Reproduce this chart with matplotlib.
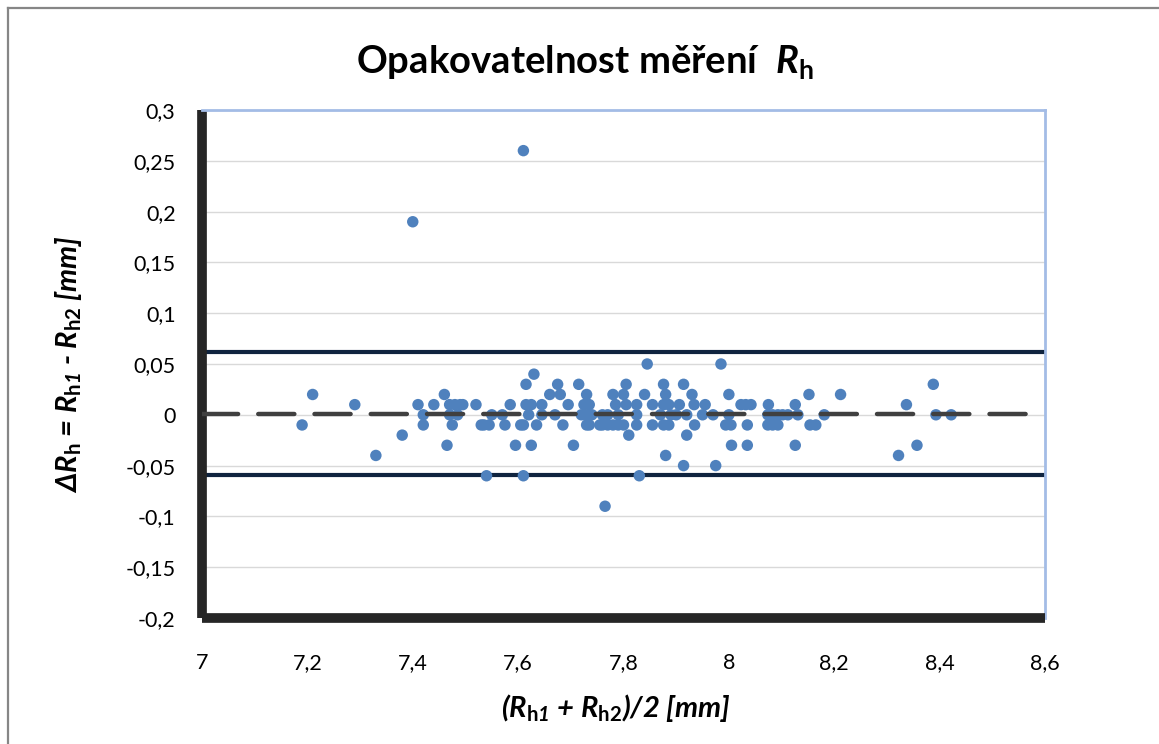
import matplotlib
matplotlib.use("Agg")
import matplotlib.pyplot as plt
from matplotlib.lines import Line2D

# ---------------- data ----------------
x_mean = [7.19, 7.21, 7.29, 7.33, 7.38, 7.40, 7.41, 7.42, 7.42, 7.44,
          7.46, 7.465, 7.47, 7.48, 7.49, 7.495, 7.47, 7.485, 7.475,
          7.52, 7.53, 7.535, 7.545, 7.55, 7.54, 7.57, 7.575, 7.585, 7.595,
          7.605, 7.61, 7.61, 7.61, 7.615, 7.615, 7.625, 7.63, 7.625, 7.62,
          7.635, 7.645, 7.645, 7.66, 7.675, 7.68, 7.67, 7.685, 7.695, 7.705,
          7.715, 7.73, 7.725, 7.735, 7.72, 7.73, 7.74, 7.73, 7.735,
          7.755, 7.76, 7.77, 7.78, 7.79, 7.80, 7.76, 7.77, 7.79, 7.765,
          7.78, 7.785, 7.80, 7.805, 7.805, 7.81, 7.825, 7.825, 7.83, 7.825,
          7.84, 7.845, 7.855, 7.855, 7.87, 7.876, 7.886, 7.876, 7.886,
          7.88, 7.876, 7.88, 7.89,
          7.906, 7.90, 7.914, 7.914, 7.92, 7.93, 7.934, 7.935, 7.92, 7.95,
          7.955, 7.97, 7.975, 7.985, 7.994, 8.004, 8.0, 8.0, 8.005,
          8.023, 8.032, 8.042, 8.035, 8.035, 8.075, 8.074, 8.083, 8.093,
          8.102, 8.112, 8.131, 8.074, 8.083, 8.093, 8.126, 8.126,
          8.152, 8.154, 8.165, 8.181, 8.212,
          8.322, 8.337, 8.357, 8.388, 8.393, 8.422]
delta = [-0.01, 0.02, 0.01, -0.04, -0.02, 0.19, 0.01, 0.0, -0.01, 0.01,
         0.02, -0.03, 0.01, 0.01, 0.01, 0.01, 0.0, 0.0, -0.01,
         0.01, -0.01, -0.01, -0.01, 0.0, -0.06, 0.0, -0.01, 0.01, -0.03,
         -0.01, -0.01, -0.06, 0.26, 0.03, 0.01, 0.01, 0.04, -0.03, 0.0,
         -0.01, 0.01, 0.0, 0.02, 0.03, 0.02, 0.0, -0.01, 0.01, -0.03,
         0.03, 0.02, 0.01, 0.01, 0.0, 0.0, 0.0, -0.01, -0.01,
         -0.01, -0.01, -0.01, -0.01, -0.01, -0.01, 0.0, 0.0, 0.0, -0.09,
         0.02, 0.01, 0.02, 0.03, 0.01, -0.02, 0.01, -0.01, -0.06, 0.0,
         0.02, 0.05, 0.01, -0.01, 0.0, 0.01, 0.01, -0.01, -0.01,
         0.02, 0.03, -0.04, 0.0,
         0.01, 0.0, 0.03, -0.05, -0.02, 0.02, 0.01, -0.01, 0.0, 0.0,
         0.01, 0.0, -0.05, 0.05, -0.01, -0.01, 0.02, 0.0, -0.03,
         0.01, 0.01, 0.01, -0.01, -0.03, 0.01, 0.0, 0.0, 0.0,
         0.0, 0.0, 0.0, -0.01, -0.01, -0.01, 0.01, -0.03,
         0.02, -0.01, -0.01, 0.0, 0.02,
         -0.04, 0.01, -0.03, 0.03, 0.0, 0.0]

mean_diff = 0.0012
upper_loa = 0.0615
lower_loa = -0.0590
mean_line_x = [7.0, 8.565]
loa_line_x = [7.0, 8.6]

x_ticks = [7.0, 7.2, 7.4, 7.6, 7.8, 8.0, 8.2, 8.4, 8.6]
x_tick_labels = ["7", "7,2", "7,4", "7,6", "7,8", "8", "8,2", "8,4", "8,6"]
y_ticks = [-0.2, -0.15, -0.1, -0.05, 0.0, 0.05, 0.1, 0.15, 0.2, 0.25, 0.3]
y_tick_labels = ["-0,2", "-0,15", "-0,1", "-0,05", "0", "0,05", "0,1",
                 "0,15", "0,2", "0,25", "0,3"]

title_text = "Opakovatelnost měření  $\\mathbfit{R}_{\\mathbf{h}}$"
x_label = "($\\mathbfit{R}_{\\mathbf{h}\\mathbfit{1}}$ + $\\mathbfit{R}_{\\mathbf{h2}}$)/2 [mm]"
y_label = ("Δ$\\mathbfit{R}_{\\mathbf{h}}$ = $\\mathbfit{R}_{\\mathbf{h}\\mathbfit{1}}$ - "
           "$\\mathbfit{R}_{\\mathbf{h2}}$ [mm]")

# ---------------- style ----------------
plt.rcParams['font.family'] = ['Lato', 'DejaVu Sans']
plt.rcParams['mathtext.fontset'] = 'custom'
plt.rcParams['mathtext.rm'] = 'Lato'
plt.rcParams['mathtext.it'] = 'Lato:italic'
plt.rcParams['mathtext.bf'] = 'Lato:bold'
plt.rcParams['mathtext.bfit'] = 'Lato:italic:bold'
plt.rcParams['lines.scale_dashes'] = False

W, H = 1159, 744
fig = plt.figure(figsize=(W / 100, H / 100), dpi=100)
fig.patch.set_facecolor('white')

# outer chart-area border (top and left visible)
fig.add_artist(Line2D([8 / W, 1.0], [1 - 8 / H, 1 - 8 / H], color='#868686', lw=1.6,
                      transform=fig.transFigure))
fig.add_artist(Line2D([8 / W, 8 / W], [0.0, 1 - 8 / H], color='#868686', lw=1.6,
                      transform=fig.transFigure))

ax = fig.add_axes([202 / W, 1 - 618 / H, (1045 - 202) / W, (618 - 110) / H])
ax.set_xlim(7.0, 8.6)
ax.set_ylim(-0.2, 0.3)

ax.set_yticks(y_ticks)
ax.set_yticklabels(y_tick_labels)
ax.set_xticks(x_ticks)
ax.set_xticklabels(x_tick_labels)
ax.tick_params(axis='both', length=0, labelsize=15.5, colors='#000000')
ax.tick_params(axis='x', pad=25)
ax.tick_params(axis='y', pad=19)

ax.grid(axis='y', color='#D9D9D9', lw=1.0, zorder=0)
ax.set_axisbelow(True)

for side in ('left', 'bottom'):
    ax.spines[side].set_color('#262626')
    ax.spines[side].set_linewidth(7.0)
    ax.spines[side].set_capstyle('butt')
for side in ('top', 'right'):
    ax.spines[side].set_color('#A3BCE6')
    ax.spines[side].set_linewidth(2.0)

# limits of agreement
ax.plot(loa_line_x, [upper_loa, upper_loa], color='#10243F', lw=3.0, zorder=2,
        solid_capstyle='butt')
ax.plot(loa_line_x, [lower_loa, lower_loa], color='#10243F', lw=3.0, zorder=2,
        solid_capstyle='butt')

# points
ax.scatter(x_mean, delta, s=68, color='#4F81BD', edgecolors='none', zorder=3)

# mean difference (dashed)
ax.plot(mean_line_x, [mean_diff, mean_diff], color='#404040', lw=3.2,
        dashes=(26, 14.5), dash_capstyle='round', zorder=4)

fig.text(0.505, 1 - 62 / H, title_text, ha='center', va='center',
         fontsize=27.5, fontweight='bold')
fig.text(616 / W, 1 - 708 / H, x_label, ha='center', va='center',
         fontsize=21, fontweight='bold', fontstyle='italic')
fig.text(68 / W, 1 - 364 / H, y_label, ha='center', va='center', rotation=90,
         fontsize=21, fontweight='bold', fontstyle='italic')

fig.savefig('out.png', dpi=100, facecolor='white')
